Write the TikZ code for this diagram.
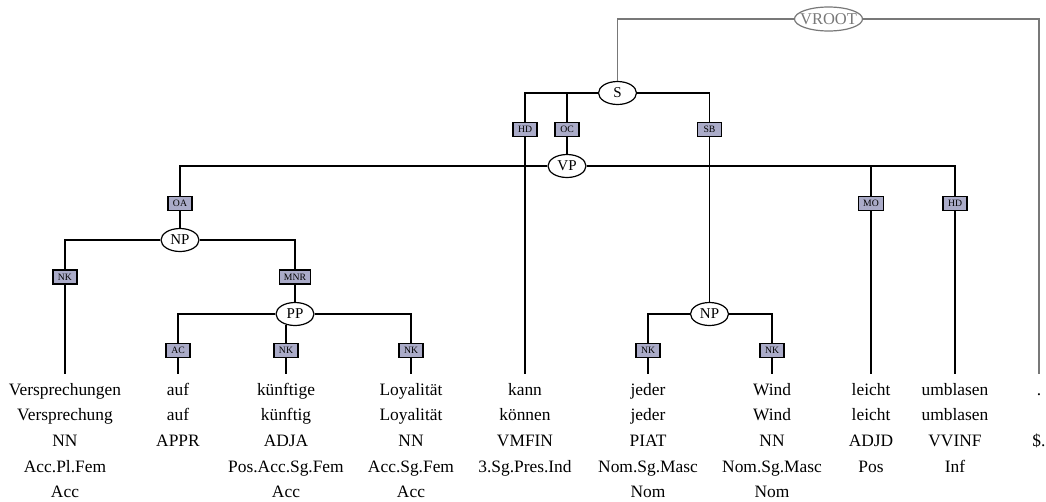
\documentclass[tikz,border=0pt]{standalone}
\usepackage{fontspec}
\setmainfont{Liberation Serif}
\usepackage{xcolor}
\usepackage{tikz}
\usetikzlibrary{shapes.geometric}

\definecolor{funcfill}{RGB}{170,171,200}
\definecolor{rootgray}{RGB}{120,120,120}
\newcommand{\tokfont}{\fontsize{17.4pt}{25.6pt}\selectfont}
\newcommand{\catfont}{\fontsize{15pt}{18pt}\selectfont}
\newcommand{\rootfont}{\fontsize{16.5pt}{19pt}\selectfont}
\newcommand{\funcfont}{\fontsize{9.7pt}{11pt}\selectfont}
\newcommand{\tstrut}{\rule{0pt}{12.5pt}}

\begin{document}
\begin{tikzpicture}[
    x=1pt, y=-1pt,
    cat/.style={
        ellipse,
        minimum width=38pt,
        minimum height=23pt,
        inner sep=0pt,
        fill=white,
        draw=black,
        line width=1.2pt,
        font=\catfont
    },
    vroot/.style={
        cat,
        minimum width=68pt,
        minimum height=24pt,
        inner xsep=-5pt,
        draw=rootgray,
        text=rootgray,
        font=\rootfont
    },
    func/.style={
        rectangle,
        minimum width=24pt,
        minimum height=14pt,
        inner xsep=4.5pt,
        inner ysep=0pt,
        fill=funcfill,
        draw=black,
        line width=1.2pt,
        font=\funcfont
    },
    tok/.style={
        anchor=north,
        inner xsep=0pt,
        inner ysep=8.5pt,
        align=center,
        font=\tokfont
    },
    branch/.style={line width=1.2pt, draw=black},
    rootline/.style={line width=1.2pt, draw=rootgray}
]
\useasboundingbox (0,0) rectangle (1046,501);

\node (vroot) [vroot] at (828.5,19) {VROOT};
\node (s)      [cat] at (617.5,93) {S};
\node (vp)     [cat] at (567,166) {VP};
\node (npobj)  [cat] at (180,240) {NP};
\node (pp)     [cat] at (295,314) {PP};
\node (npsubj) [cat] at (709.5,314) {NP};

\node (hdS)   [func] at (525,129.5) {HD};
\node (ocS)   [func] at (567,129.5) {OC};
\node (sbS)   [func] at (709.5,129.5) {SB};
\node (oaVP)  [func] at (180,203.5) {OA};
\node (moVP)  [func] at (871,203.5) {MO};
\node (hdVP)  [func] at (955,203.5) {HD};
\node (nkNP)  [func] at (65,277) {NK};
\node (mnrNP) [func] at (295,277) {MNR};
\node (acPP)  [func] at (178,350.5) {AC};
\node (nkPPa) [func] at (286,350.5) {NK};
\node (nkPPb) [func] at (411,350.5) {NK};
\node (nkNPa) [func] at (648,350.5) {NK};
\node (nkNPb) [func] at (772,350.5) {NK};

\node (versprechungen) [tok] at (65,374)
    {\tstrut Versprechungen\\Versprechung\\NN\\Acc.Pl.Fem\\Acc};
\node (auf)        [tok] at (178,374) {\tstrut auf\\auf\\APPR};
\node (kuenftige)  [tok] at (286,374)
    {\tstrut künftige\\künftig\\ADJA\\Pos.Acc.Sg.Fem\\Acc};
\node (loyalitaet) [tok] at (411,374)
    {\tstrut Loyalität\\Loyalität\\NN\\Acc.Sg.Fem\\Acc};
\node (kann)       [tok] at (525,374)
    {\tstrut kann\\können\\VMFIN\\3.Sg.Pres.Ind};
\node (jeder)      [tok] at (648,374)
    {\tstrut jeder\\jeder\\PIAT\\Nom.Sg.Masc\\Nom};
\node (wind)       [tok] at (772,374)
    {\tstrut Wind\\Wind\\NN\\Nom.Sg.Masc\\Nom};
\node (leicht)     [tok] at (871,374) {\tstrut leicht\\leicht\\ADJD\\Pos};
\node (umblasen)   [tok] at (955,374) {\tstrut umblasen\\umblasen\\VVINF\\Inf};
\node (punct)      [tok] at (1039,374) {\tstrut .\\\mbox{}\\\$.};

% Branches
\draw[rootline] (s) |- (vroot);
\draw[rootline] (vroot) -| (punct);

\draw[branch] (s) -| (hdS);
\draw[branch] (s) -| (ocS);
\draw[branch] (s) -| (sbS);
\draw[branch] (hdS) -- (kann);
\draw[branch] (ocS) -- (vp);
\draw[branch] (sbS) -- (npsubj);

\draw[branch] (vp) -| (oaVP);
\draw[branch] (vp) -| (moVP);
\draw[branch] (vp) -| (hdVP);
\draw[branch] (oaVP) -- (npobj);
\draw[branch] (moVP) -- (leicht);
\draw[branch] (hdVP) -- (umblasen);

\draw[branch] (npobj) -| (nkNP);
\draw[branch] (npobj) -| (mnrNP);
\draw[branch] (nkNP) -- (versprechungen);
\draw[branch] (mnrNP) -- (pp);

\draw[branch] (pp) -| (acPP);
\draw[branch] (pp) -| (nkPPb);
\draw[branch] (nkPPa) -- (nkPPa |- pp.-130);
\draw[branch] (acPP) -- (auf);
\draw[branch] (nkPPa) -- (kuenftige);
\draw[branch] (nkPPb) -- (loyalitaet);

\draw[branch] (npsubj) -| (nkNPa);
\draw[branch] (npsubj) -| (nkNPb);
\draw[branch] (nkNPa) -- (jeder);
\draw[branch] (nkNPb) -- (wind);

\end{tikzpicture}
\end{document}
